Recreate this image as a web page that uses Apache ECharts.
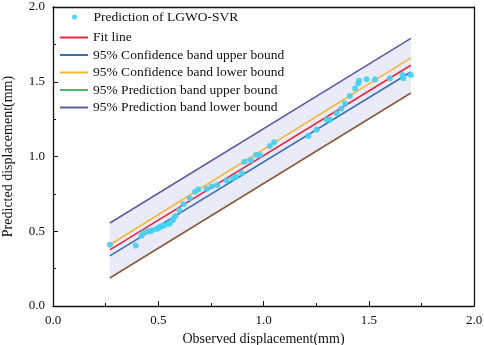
<!DOCTYPE html>
<html>
<head>
<meta charset="utf-8">
<script src="https://cdn.jsdelivr.net/npm/echarts@6/dist/echarts.min.js"></script>
<style>
html, body { margin: 0; padding: 0; background: #fff; }
#chart { width: 484px; height: 345px; }
</style>
</head>
<body>
<div id="chart"></div>
<script>
// observed vs predicted (mm)
var observed = [0.27, 0.393, 0.42, 0.43, 0.45, 0.46, 0.47, 0.49, 0.50, 0.51, 0.52, 0.53, 0.55, 0.556, 0.57, 0.58, 0.60,
	0.62, 0.65, 0.675, 0.69, 0.73, 0.754, 0.78, 0.825, 0.855, 0.87, 0.896, 0.91, 0.94, 0.964, 0.983, 1.03, 1.05,
	1.213, 1.253, 1.30, 1.316, 1.348, 1.37, 1.387, 1.41, 1.435, 1.45, 1.454, 1.49, 1.53, 1.60, 1.66, 1.664, 1.70];
var predicted = [0.41, 0.405, 0.47, 0.49, 0.50, 0.50, 0.505, 0.515, 0.52, 0.53, 0.535, 0.54, 0.55, 0.555, 0.575, 0.60, 0.64,
	0.68, 0.72, 0.765, 0.78, 0.785, 0.80, 0.81, 0.84, 0.855, 0.865, 0.89, 0.965, 0.975, 1.01, 1.01, 1.07, 1.095,
	1.137, 1.18, 1.245, 1.245, 1.29, 1.32, 1.355, 1.405, 1.455, 1.49, 1.507, 1.516, 1.516, 1.523, 1.545, 1.523, 1.545];

var lineX = [0.27, 1.70];
var fitLine = [0.375, 1.61];
var confUpper = [0.335, 1.565];
var confLower = [0.41, 1.66];
var predUpper = [0.187, 1.425];
var predLower = [0.555, 1.79];

var xTicks = ['0.0', '0.5', '1.0', '1.5', '2.0'];

var names = ['Prediction of LGWO-SVR', 'Fit line', '95% Confidence band upper bound',
	'95% Confidence band lower bound', '95% Prediction band upper bound', '95% Prediction band lower bound'];
var colors = ['#45cff2', '#e8283c', '#3d6db5', '#f4b73a', '#4cbb6c', '#5a5ea3'];

function pairs(xs, ys) {
	var res = [];
	for (var i = 0; i < xs.length; i++) res.push([xs[i], ys[i]]);
	return res;
}

var font = 'Liberation Serif, Times New Roman, serif';
var chart = echarts.init(document.getElementById('chart'));

function lineSeries(name, ys, color) {
	return {
		name: name, type: 'line', data: pairs(lineX, ys), symbol: 'none',
		lineStyle: { color: color, width: 1.6 }, itemStyle: { color: color },
		z: 3
	};
}

var legendText = { fontFamily: font, fontSize: 13.5, color: '#111', lineHeight: 14 };

var option = {
	animation: false,
	grid: { left: 53, right: 10, top: 7, bottom: 39, containLabel: false, outerBoundsMode: 'none' },
	legend: [{
		left: 72, top: 10, padding: 0, itemWidth: 28, itemHeight: 5, icon: 'circle',
		textStyle: legendText,
		data: [{ name: names[0], itemStyle: { color: colors[0] } }]
	}, {
		left: 60, top: 30.5, padding: 0, orient: 'vertical', itemGap: 3.5, itemWidth: 28, itemHeight: 2, icon: 'rect',
		textStyle: legendText,
		data: [
			{ name: names[1] }, { name: names[2] }, { name: names[3] },
			{ name: names[4], itemStyle: { color: colors[4] } },
			{ name: names[5] }
		]
	}],
	xAxis: [{
		type: 'value', min: 0, max: 2, interval: 0.5,
		name: 'Observed displacement(mm)', nameLocation: 'middle', nameGap: 24,
		nameTextStyle: { fontFamily: font, fontSize: 14, color: '#111' },
		axisLine: { lineStyle: { color: '#111', width: 1.3 } },
		axisTick: { inside: true, length: 5, lineStyle: { color: '#111' } },
		minorTick: { show: true, splitNumber: 2, length: 3, lineStyle: { color: '#111' } },
		splitLine: { show: false },
		axisLabel: { fontFamily: font, fontSize: 13, color: '#111', margin: 8,
			formatter: function (v) { return xTicks[Math.round(v / 0.5)]; } }
	}, {
		type: 'value', position: 'top', min: 0, max: 2,
		axisLine: { show: true, onZero: false, lineStyle: { color: '#111', width: 1.3 } },
		axisTick: { show: false }, axisLabel: { show: false }, splitLine: { show: false }
	}],
	yAxis: [{
		type: 'value', min: 0, max: 2, interval: 0.5,
		name: 'Predicted displacement(mm)', nameLocation: 'middle', nameGap: 38,
		nameTextStyle: { fontFamily: font, fontSize: 14, color: '#111' },
		axisLine: { show: true, lineStyle: { color: '#111', width: 1.3 } },
		axisTick: { show: true, inside: true, length: 5, lineStyle: { color: '#111' } },
		minorTick: { show: true, splitNumber: 2, length: 3, lineStyle: { color: '#111' } },
		splitLine: { show: false },
		axisLabel: { fontFamily: font, fontSize: 13, color: '#111', margin: 8,
			formatter: function (v) { return v.toFixed(1); } }
	}, {
		type: 'value', position: 'right', min: 0, max: 2,
		axisLine: { show: true, onZero: false, lineStyle: { color: '#111', width: 1.3 } },
		axisTick: { show: false }, axisLabel: { show: false }, splitLine: { show: false }
	}],
	series: [
		{
			// prediction band fill between the two outer bounds
			type: 'custom', silent: true, z: 1,
			data: [0],
			renderItem: function (params, api) {
				var pts = [];
				for (var i = 0; i < lineX.length; i++) pts.push(api.coord([lineX[i], predUpper[i]]));
				for (var j = lineX.length - 1; j >= 0; j--) pts.push(api.coord([lineX[j], predLower[j]]));
				return { type: 'polygon', shape: { points: pts }, style: { fill: '#e9ebf9' } };
			}
		},
		lineSeries(names[5], predLower, colors[5]),
		lineSeries(names[4], predUpper, '#8a5b3a'),
		lineSeries(names[3], confLower, colors[3]),
		lineSeries(names[2], confUpper, colors[2]),
		lineSeries(names[1], fitLine, colors[1]),
		{
			name: names[0], type: 'scatter', data: pairs(observed, predicted), symbolSize: 6,
			itemStyle: { color: colors[0], opacity: 0.9 }, z: 5
		}
	]
};
chart.setOption(option);
</script>
</body>
</html>
